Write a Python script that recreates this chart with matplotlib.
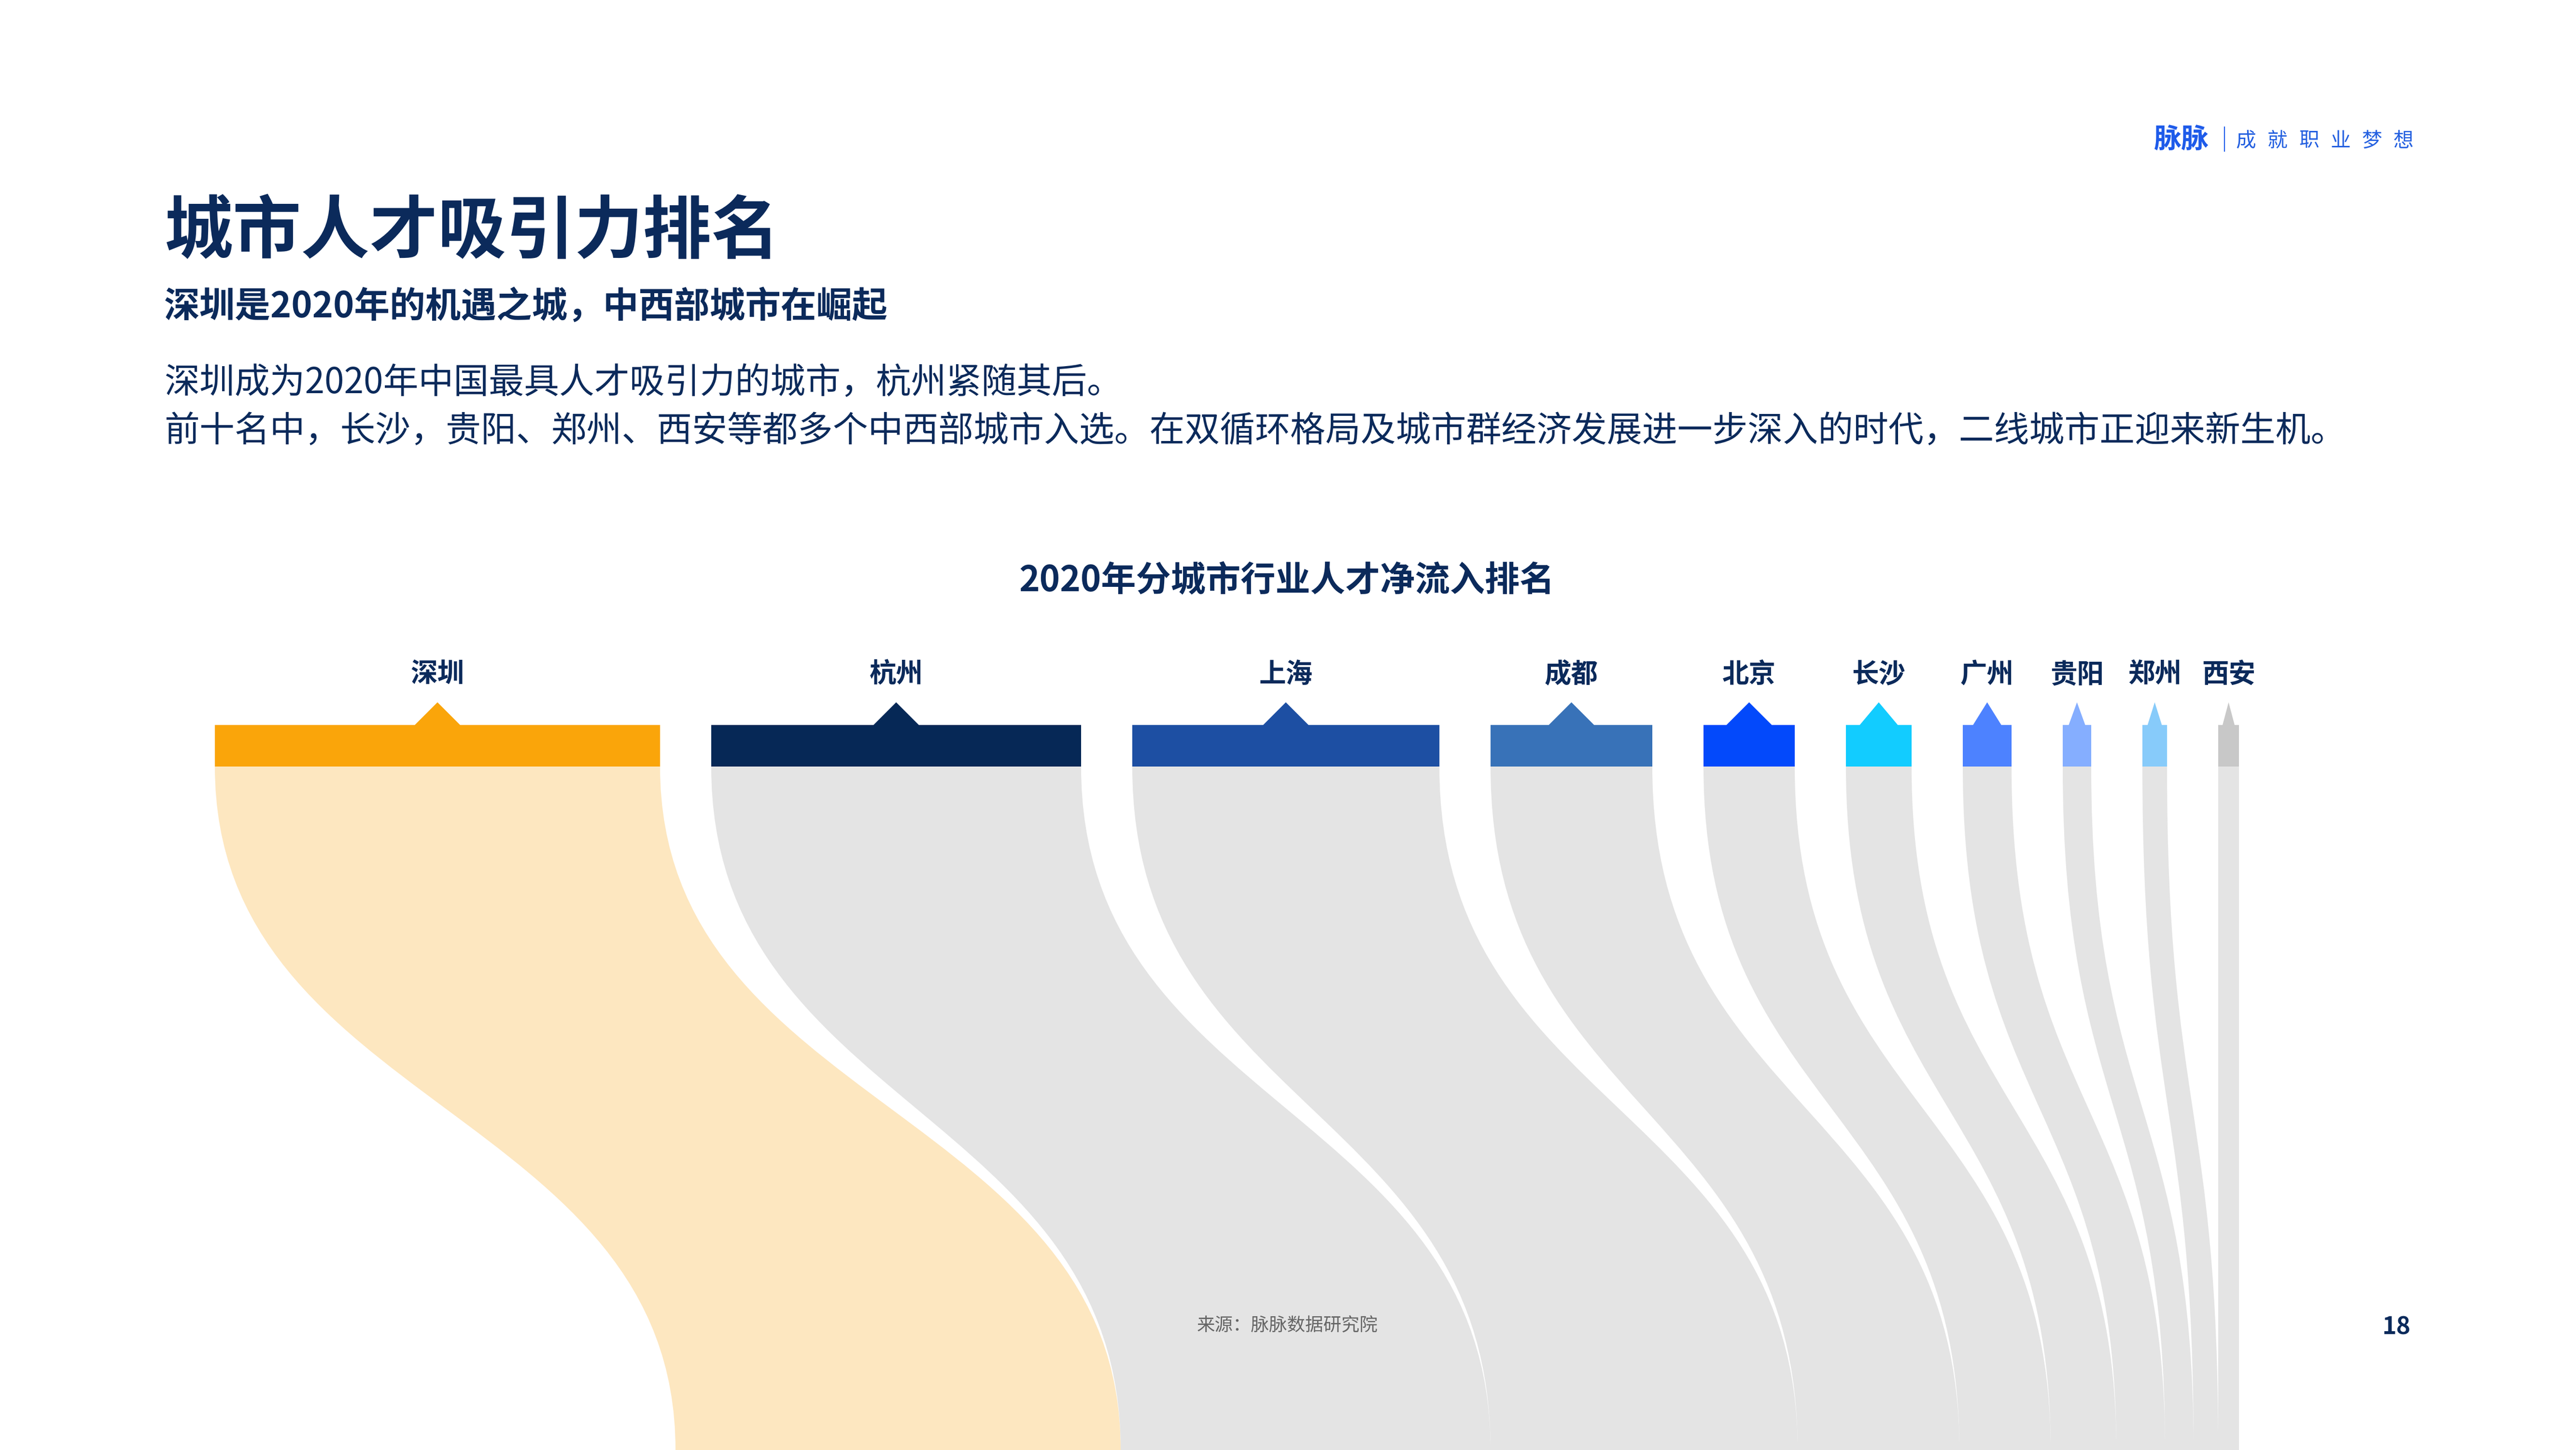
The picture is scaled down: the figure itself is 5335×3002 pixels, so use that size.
import matplotlib

matplotlib.use("Agg")
import matplotlib.pyplot as plt
from matplotlib.patches import PathPatch, Polygon
from matplotlib.path import Path

plt.rcParams["font.family"] = ["Noto Sans CJK SC", "DejaVu Sans"]

# data (relative net inflow, bar width units)
cities = ["深圳", "杭州", "上海", "成都", "北京", "长沙", "广州", "贵阳", "郑州", "西安"]
values = [922, 766, 636, 335, 189, 136, 101, 59, 51, 43]
bar_colors = ["#FAA50A", "#062856", "#1D4FA3", "#3872B8", "#0349FB",
              "#12CCFF", "#4D82FF", "#85AEFF", "#87CBFA", "#C8C8C8"]
flow_colors = ["#FDE7C0"] + ["#E4E4E4"] * 9

title = "城市人才吸引力排名"
subtitle = "深圳是2020年的机遇之城，中西部城市在崛起"
body_lines = [
    "深圳成为2020年中国最具人才吸引力的城市，杭州紧随其后。",
    "前十名中，长沙，贵阳、郑州、西安等都多个中西部城市入选。在双循环格局及城市群经济发展进一步深入的时代，二线城市正迎来新生机。",
]
chart_title = "2020年分城市行业人才净流入排名"
source = "来源：脉脉数据研究院"
slogan = "成就职业梦想"
page_no = "18"

NAVY = "#0B2A5B"
W, H = 5335, 3002

fig = plt.figure(figsize=(W / 100, H / 100), dpi=100)
ax = fig.add_axes([0, 0, 1, 1])
ax.set_xlim(0, W)
ax.set_ylim(H, 0)
ax.axis("off")

# header
ax.text(340, 482, title, fontsize=102, fontweight="bold", color=NAVY, va="center")
ax.text(340, 636, subtitle, fontsize=53, fontweight="bold", color=NAVY, va="center")
for i, line in enumerate(body_lines):
    ax.text(340, 793 + i * 100, line, fontsize=52.5, color=NAVY, va="center")

# logo
ax.text(4460, 290, "脉脉", fontsize=41, fontweight="bold", color="#1E5BEA", va="center")
ax.plot([4607, 4607], [263, 313], color="#1E5BEA", lw=1.5)
for k, ch in enumerate(slogan):
    ax.text(4651 + k * 65.4, 292, ch, fontsize=30, color="#2460E0", va="center", ha="center")

ax.text(2665, 1203, chart_title, fontsize=52, fontweight="bold", color=NAVY,
        ha="center", va="center")

# sankey-like flows
x0, gap = 445, 106
bar_top, bar_bot, tip_y = 1501, 1587, 1454
flow_bot = H
lefts = []
x = x0
for v in values:
    lefts.append(x)
    x += v + gap
right_end = lefts[-1] + values[-1]
bottom_lefts = []
b = right_end - sum(values)
for v in values:
    bottom_lefts.append(b)
    b += v

ymid = (bar_bot + flow_bot) / 2
for i, v in enumerate(values):
    tl, tr = lefts[i], lefts[i] + v
    bl, br = bottom_lefts[i], bottom_lefts[i] + v
    verts = [
        (tl, bar_bot), (tl, ymid), (bl, ymid), (bl, flow_bot),
        (br, flow_bot),
        (br, ymid), (tr, ymid), (tr, bar_bot),
        (tl, bar_bot),
    ]
    codes = [Path.MOVETO, Path.CURVE4, Path.CURVE4, Path.CURVE4,
             Path.LINETO,
             Path.CURVE4, Path.CURVE4, Path.CURVE4,
             Path.CLOSEPOLY]
    ax.add_patch(PathPatch(Path(verts, codes), facecolor=flow_colors[i],
                           edgecolor="none"))

    cx = tl + v / 2
    half = min(94, 0.58 * v) / 2
    shape = [(tl, bar_bot), (tl, bar_top), (cx - half, bar_top), (cx, tip_y),
             (cx + half, bar_top), (tr, bar_top), (tr, bar_bot)]
    ax.add_patch(Polygon(shape, closed=True, facecolor=bar_colors[i], edgecolor="none"))
    ax.text(cx, 1397, cities[i], fontsize=40, fontweight="bold", color=NAVY,
            ha="center", va="center")

ax.text(2666, 2745, source, fontsize=27, color="#666666", ha="center", va="center")
ax.text(4963, 2748, page_no, fontsize=36, fontweight="bold", color=NAVY,
        ha="center", va="center")

fig.savefig("out.png", dpi=100, facecolor="white")
